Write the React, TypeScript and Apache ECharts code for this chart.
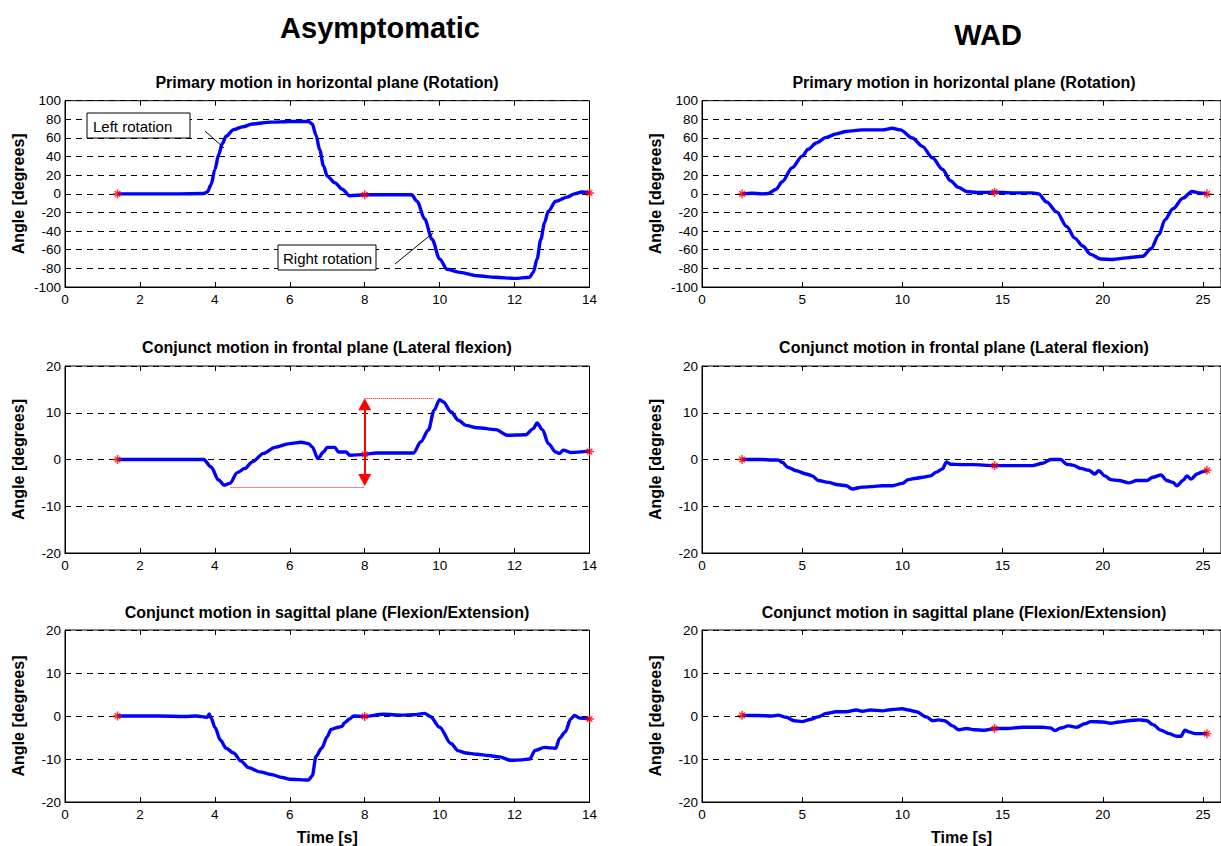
import React, { useEffect, useRef } from 'react';
import * as echarts from 'echarts';

// ---------- data: [time s, angle deg] ----------
const asymRotation = [
  [1.4, 0], [2, 0], [3, 0], [3.7, 0.3], [3.8, 2], [3.9, 10], [4.0, 26], [4.1, 42], [4.2, 54], [4.3, 62],
  [4.5, 69], [4.75, 72], [5.0, 75], [5.5, 77], [6.0, 77.6], [6.5, 77.6], [6.6, 75], [6.7, 63], [6.8, 47],
  [6.9, 30], [7.0, 19], [7.2, 12], [7.4, 5], [7.6, -2], [8.0, -1], [8.5, -1], [9.0, -1], [9.25, -1],
  [9.4, -8], [9.6, -27], [9.8, -49], [10.0, -70], [10.2, -81], [10.5, -84], [11, -88], [11.5, -89.6],
  [12, -90.7], [12.4, -89.6], [12.5, -84], [12.6, -70], [12.7, -49], [12.8, -31], [12.9, -18.5],
  [13.1, -8], [13.4, -3.5], [13.6, 0], [13.8, 2], [14.0, 1],
];
const asymLateral = [
  [1.4, 0], [2.5, 0], [3.7, 0], [3.9, -1.6], [4.1, -4.4], [4.25, -5.5], [4.4, -5.1], [4.6, -2.8],
  [4.8, -1.9], [5.0, -0.5], [5.3, 1.3], [5.6, 2.6], [6.0, 3.4], [6.3, 3.7], [6.5, 3.4], [6.6, 2.7],
  [6.75, 0.2], [6.9, 1.6], [7.0, 2.6], [7.2, 2.6], [7.3, 1.6], [7.5, 1.6], [7.6, 0.9], [8.0, 1.1],
  [8.3, 1.4], [9.0, 1.4], [9.3, 1.4], [9.5, 3.8], [9.7, 6.3], [9.85, 10.5], [10.0, 12.8], [10.1, 12.3],
  [10.3, 10.2], [10.5, 8.4], [10.7, 7.3], [11, 6.8], [11.5, 6.4], [11.8, 5.2], [12.3, 5.3], [12.5, 6.6],
  [12.6, 7.8], [12.75, 6.3], [12.9, 3.4], [13.1, 1.6], [13.2, 1.3], [13.3, 2], [13.5, 1.5], [14, 1.8],
];
const asymSagittal = [
  [1.4, 0], [2.5, 0], [3.2, -0.1], [3.5, 0], [3.8, -0.3], [3.85, 0.45], [3.9, -0.45], [4.0, -2.6],
  [4.15, -5.6], [4.3, -7.5], [4.5, -8.6], [4.7, -10.5], [4.9, -12], [5.2, -13], [5.5, -13.6], [5.8, -14.3],
  [6.0, -14.7], [6.5, -14.9], [6.6, -13.9], [6.7, -9.4], [6.85, -7.5], [7.0, -4.8], [7.1, -3.1],
  [7.3, -2.6], [7.4, -2.4], [7.45, -1.6], [7.6, -0.7], [7.7, 0], [8.0, -0.1], [8.5, 0.4], [9.0, 0.2],
  [9.3, 0.3], [9.6, 0.6], [9.75, -0.1], [10.0, -2.6], [10.3, -6.4], [10.5, -8.1], [10.7, -8.6], [11, -8.9],
  [11.3, -9.2], [11.6, -9.5], [11.9, -10.3], [12.2, -10.2], [12.4, -10], [12.55, -8], [12.8, -7.3],
  [13.1, -7.5], [13.2, -5.2], [13.35, -3.7], [13.5, -0.7], [13.6, 0.1], [13.75, -0.5], [14, -0.7],
];
const wadRotation = [
  [2.0, 0], [2.5, 0.7], [3.0, 0], [3.3, 0.3], [3.7, 5], [4.0, 13], [4.5, 28], [5.0, 40.5], [5.3, 48],
  [5.7, 54.6], [6.2, 60.6], [6.7, 64.4], [7.2, 67], [8, 68.7], [9, 68.7], [9.5, 70.4], [9.9, 68.7],
  [10.5, 60], [11, 51], [11.5, 38.7], [12, 26.4], [12.4, 14], [12.8, 7], [13.2, 2.5], [13.7, 1.4],
  [14.6, 1.8], [15.5, 1.1], [16.5, 1.1], [16.8, 0], [17.2, -8.8], [17.7, -19.4], [18.2, -35], [18.6, -47.5],
  [19.0, -56], [19.4, -65], [19.9, -70], [20.5, -70.4], [21.2, -68.7], [22.0, -67], [22.4, -59],
  [22.8, -44], [23.1, -28], [23.5, -16], [24.0, -4.6], [24.45, 2.6], [24.8, 1], [25.2, 0],
];
const wadLateral = [
  [2.0, 0], [2.5, 0], [3.0, 0], [3.5, -0.1], [3.8, -0.1], [4.0, -0.6], [4.3, -1.7], [4.7, -2.4],
  [5.2, -3.1], [5.5, -3.5], [5.8, -4.5], [6.3, -4.9], [6.8, -5.4], [7.2, -5.6], [7.5, -6.3], [8, -5.9],
  [8.5, -5.8], [9, -5.6], [9.5, -5.6], [10, -5.1], [10.3, -4.3], [10.7, -4.0], [11, -3.8], [11.4, -3.5],
  [11.7, -2.7], [12.0, -2.0], [12.2, -0.5], [12.4, -1.0], [13, -1.1], [13.5, -1.1], [14.6, -1.3],
  [15.5, -1.3], [16.5, -1.3], [17, -0.8], [17.4, 0], [17.9, 0], [18.2, -1], [18.5, -1.2], [18.9, -1.9],
  [19.3, -2.3], [19.6, -3.1], [19.8, -2.4], [20.1, -3.5], [20.4, -4.3], [20.8, -4.5], [21.3, -5.0],
  [21.7, -4.5], [22.2, -4.5], [22.5, -3.8], [22.9, -3.3], [23.2, -4.5], [23.5, -4.9], [23.7, -5.6],
  [24.0, -4.5], [24.2, -3.5], [24.4, -4.2], [24.7, -3.1], [25.0, -2.6], [25.2, -2.3],
];
const wadSagittal = [
  [2.0, 0.15], [2.8, 0.1], [3.5, 0], [3.8, 0.2], [4.2, -0.3], [4.6, -1.1], [5.0, -1.3], [5.4, -0.8],
  [5.8, -0.2], [6.2, 0.6], [6.7, 1.0], [7.2, 1.0], [7.7, 1.4], [8.0, 1.1], [8.4, 1.4], [9.0, 1.2],
  [9.5, 1.5], [10.0, 1.7], [10.3, 1.4], [10.7, 1.0], [11.2, -0.2], [11.5, -1.1], [11.8, -0.9], [12.1, -1.1],
  [12.5, -2.3], [12.8, -3.2], [13.2, -2.9], [13.6, -3.2], [14.1, -3.3], [14.6, -2.9], [15.2, -2.9],
  [16, -2.6], [17, -2.6], [17.4, -2.8], [17.6, -3.4], [17.9, -2.8], [18.3, -2.3], [18.7, -2.6],
  [19.1, -1.8], [19.4, -1.3], [20, -1.4], [20.4, -1.7], [20.8, -1.4], [21.3, -1.1], [21.8, -0.9],
  [22.2, -1.1], [22.5, -2.0], [22.9, -3.3], [23.3, -4.1], [23.7, -4.7], [23.9, -4.7], [24.1, -3.3],
  [24.3, -3.7], [24.6, -4.1], [25.2, -4.1],
];

// red event markers (start / middle / end)
const asymRotationMarks = [[1.4, 0], [8, -1], [14, 1]];
const asymLateralMarks = [[1.4, 0], [8, 1.1], [14, 1.7]];
const asymSagittalMarks = [[1.4, 0], [8, -0.1], [14, -0.7]];
const wadRotationMarks = [[2.0, 0], [14.6, 1.8], [25.2, 0]];
const wadLateralMarks = [[2.0, 0], [14.6, -1.3], [25.2, -2.3]];
const wadSagittalMarks = [[2.0, 0.15], [14.6, -2.9], [25.2, -4.1]];

// range annotation on asymptomatic lateral flexion
const lateralMinLine = [[4.42, -6], [8, -6]];
const lateralMaxLine = [[8, 13.2], [9.85, 13.2]];
const lateralArrow = [[8, -4.4], [8, 11.8]];

const panelTitles = [
  'Primary motion in horizontal plane (Rotation)',
  'Conjunct motion in frontal plane (Lateral flexion)',
  'Conjunct motion in sagittal plane (Flexion/Extension)',
];
const columnTitles = ['Asymptomatic', 'WAD'];
const yRanges = [
  [-100, 100, 20],
  [-20, 20, 10],
  [-20, 20, 10],
];
const xRanges = [
  [0, 14, 2],
  [0, 25.9, 5],
];

const FONT = '"Liberation Sans", Arial, Helvetica, sans-serif';
const ASTERISK =
  'path://M4.2,0 L5.8,0 L5.8,10 L4.2,10 Z M0,4.2 L10,4.2 L10,5.8 L0,5.8 Z M1.3,2.4 L2.4,1.3 L8.7,7.6 L7.6,8.7 Z M7.6,1.3 L8.7,2.4 L2.4,8.7 L1.3,7.6 Z';

export default function App() {
  const ref = useRef<HTMLDivElement>(null);

  useEffect(() => {
    if (!ref.current) return;
    const chart = echarts.init(ref.current, null, { renderer: 'svg' });

    const grids = [
      { left: 65, top: 100.7, width: 524.5, height: 186.3 },
      { left: 702, top: 100.7, width: 524, height: 186.3 },
      { left: 65, top: 366, width: 524.5, height: 187 },
      { left: 702, top: 366, width: 524, height: 187 },
      { left: 65, top: 630, width: 524.5, height: 177 },
      { left: 702, top: 630, width: 524, height: 177 },
    ].map((g) => ({ ...g, show: true, borderColor: '#000', borderWidth: 1, backgroundColor: 'transparent' }));

    const curves = [asymRotation, wadRotation, asymLateral, wadLateral, asymSagittal, wadSagittal];
    const marks = [
      asymRotationMarks, wadRotationMarks, asymLateralMarks, wadLateralMarks, asymSagittalMarks, wadSagittalMarks,
    ];

    const xAxes: any[] = [];
    const yAxes: any[] = [];
    for (let i = 0; i < 6; i++) {
      const col = i % 2;
      const row = Math.floor(i / 2);
      const [xmin, xmax, xint] = xRanges[col];
      const [ymin, ymax, yint] = yRanges[row];
      xAxes.push({
        type: 'value',
        gridIndex: i,
        min: xmin,
        max: xmax,
        interval: xint,
        position: 'bottom',
        axisLine: { show: true, onZero: false, lineStyle: { color: '#000', width: 1 } },
        axisTick: { show: true, inside: true, length: 5, lineStyle: { color: '#000' } },
        axisLabel: {
          color: '#000',
          fontSize: 13.5,
          fontFamily: FONT,
          margin: 5,
          showMaxLabel: col === 0,
          formatter: (v: number) => (Math.abs(v / xint - Math.round(v / xint)) < 1e-6 ? String(v) : ''),
        },
        splitLine: { show: false },
        name: row === 2 ? 'Time [s]' : '',
        nameLocation: 'middle',
        nameGap: 27,
        nameTextStyle: { color: '#000', fontSize: 16, fontWeight: 'bold', fontFamily: FONT },
      });
      yAxes.push({
        type: 'value',
        gridIndex: i,
        min: ymin,
        max: ymax,
        interval: yint,
        axisLine: { show: true, onZero: false, lineStyle: { color: '#000', width: 1 } },
        axisTick: { show: false },
        axisLabel: { color: '#000', fontSize: 13.5, fontFamily: FONT, margin: 4 },
        splitLine: { show: true, lineStyle: { color: '#000', type: [6, 5], width: 1 } },
        name: 'Angle [degrees]',
        nameLocation: 'middle',
        nameGap: 39,
        nameTextStyle: { color: '#000', fontSize: 16, fontWeight: 'bold', fontFamily: FONT },
      });
    }
    // top axes carrying inward ticks on the upper border
    for (let i = 0; i < 6; i++) {
      const [xmin, xmax, xint] = xRanges[i % 2];
      xAxes.push({
        type: 'value',
        gridIndex: i,
        min: xmin,
        max: xmax,
        interval: xint,
        position: 'top',
        axisLine: { show: false, onZero: false },
        axisTick: { show: true, inside: true, length: 5, lineStyle: { color: '#000' } },
        axisLabel: { show: false },
        splitLine: { show: false },
      });
    }

    const series: any[] = [];
    for (let i = 0; i < 6; i++) {
      series.push({
        type: 'line',
        xAxisIndex: i,
        yAxisIndex: i,
        data: curves[i],
        showSymbol: false,
        smooth: 0.3,
        smoothMonotone: 'x',
        lineStyle: { color: '#0000ff', width: 3.4 },
        z: 3,
        silent: true,
      });
      const s: any = {
        type: 'scatter',
        xAxisIndex: i,
        yAxisIndex: i,
        data: marks[i],
        symbol: ASTERISK,
        symbolSize: 9,
        itemStyle: { color: '#ff0000' },
        z: 5,
        silent: true,
      };
      if (i === 2) {
        s.markLine = {
          silent: true,
          animation: false,
          label: { show: false },
          data: [
            [
              { coord: lateralMinLine[0], symbol: 'none', lineStyle: { color: '#ff0000', type: 'dotted', width: 1 } },
              { coord: lateralMinLine[1], symbol: 'none' },
            ],
            [
              { coord: lateralMaxLine[0], symbol: 'none', lineStyle: { color: '#ff0000', type: 'dotted', width: 1 } },
              { coord: lateralMaxLine[1], symbol: 'none' },
            ],
            [
              { coord: lateralArrow[0], symbol: 'triangle', symbolSize: [13, 12], lineStyle: { color: '#ff0000', type: 'solid', width: 2 } },
              { coord: lateralArrow[1], symbol: 'triangle', symbolSize: [13, 12] },
            ],
          ],
          itemStyle: { color: '#ff0000' },
        };
      }
      series.push(s);
    }

    const textStyle = (text: string, size: number, x: number, y: number, weight = 'bold', align = 'center') => ({
      type: 'text',
      x,
      y,
      silent: true,
      style: {
        text,
        fill: '#000',
        font: `${weight} ${size}px ${FONT}`,
        align,
        verticalAlign: 'middle',
      },
    });

    const graphic: any[] = [
      textStyle(columnTitles[0], 29, 380, 28),
      textStyle(columnTitles[1], 29, 988, 35),
      textStyle(panelTitles[0], 16, 327, 82.5),
      textStyle(panelTitles[0], 16, 964, 82.5),
      textStyle(panelTitles[1], 16, 327, 347),
      textStyle(panelTitles[1], 16, 964, 347),
      textStyle(panelTitles[2], 16, 327, 612.5),
      textStyle(panelTitles[2], 16, 964, 612.5),
      // annotation boxes
      {
        type: 'rect',
        shape: { x: 87, y: 113, width: 103, height: 25 },
        style: { fill: '#fff', stroke: '#000', lineWidth: 1 },
        z: 10,
        silent: true,
      },
      { ...textStyle('Left rotation', 15, 93, 126, 'normal', 'left'), z: 11 },
      {
        type: 'line',
        shape: { x1: 205, y1: 131, x2: 224, y2: 148 },
        style: { stroke: '#000', lineWidth: 1 },
        z: 10,
        silent: true,
      },
      {
        type: 'rect',
        shape: { x: 278, y: 245, width: 98, height: 25 },
        style: { fill: '#fff', stroke: '#000', lineWidth: 1 },
        z: 10,
        silent: true,
      },
      { ...textStyle('Right rotation', 15, 283, 258, 'normal', 'left'), z: 11 },
      {
        type: 'line',
        shape: { x1: 395, y1: 264, x2: 433, y2: 233 },
        style: { stroke: '#000', lineWidth: 1 },
        z: 10,
        silent: true,
      },
    ];

    chart.setOption({
      animation: false,
      backgroundColor: '#fff',
      textStyle: { fontFamily: FONT },
      grid: grids,
      xAxis: xAxes,
      yAxis: yAxes,
      series,
      graphic,
    });

    return () => chart.dispose();
  }, []);

  return (
    <div
      ref={ref}
      style={{ position: 'absolute', left: 0, top: 0, width: 1221, height: 846, background: '#fff' }}
    />
  );
}
